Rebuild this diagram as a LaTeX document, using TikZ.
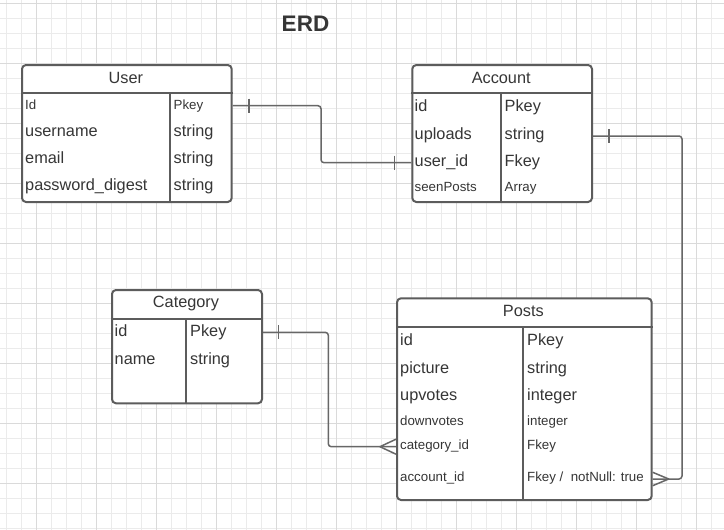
\documentclass[tikz,border=0pt]{standalone}
\usepackage{fontspec}
\setmainfont{Liberation Sans}
\usepackage{tikz}
\usetikzlibrary{positioning}
\definecolor{ink}{HTML}{363636}
\definecolor{frame}{HTML}{5C5C5C}
\definecolor{wire}{HTML}{676767}
\definecolor{minorgrid}{HTML}{EBEBEB}
\definecolor{majorgrid}{HTML}{DADADA}
\tikzset{edge/.style = {draw=wire, line width=1.5pt, rounded corners=3pt}}
\tikzset{rule/.style = {draw=frame, line width=2pt}}

\begin{document}
\begin{tikzpicture}[x=1pt, y=-1pt, line join=round,
    table/.style={rule, fill=white, rounded corners=4pt, inner sep=0pt, anchor=north west},
    field/.style={anchor=west, inner sep=0pt, text=ink, font=\fontsize{16.3}{18}\selectfont, text height=11.7pt, text depth=0pt},
    small field/.style={field, font=\fontsize{13.3}{15}\selectfont, text height=9.5pt},
    head/.style={field, anchor=center}]
    \useasboundingbox (0,0) rectangle (724,530);
    \fill[white] (0,0) rectangle (724,530);
    \foreach \gx in {6.7,21.7,...,722} \draw[minorgrid, line width=1pt] (\gx,0) -- (\gx,530);
    \foreach \gy in {3.3,18.3,...,529} \draw[minorgrid, line width=1pt] (0,\gy) -- (724,\gy);
    \foreach \gx in {36.7,96.7,...,722} \draw[majorgrid, line width=1pt] (\gx,0) -- (\gx,530);
    \foreach \gy in {3.3,63.3,...,529} \draw[majorgrid, line width=1pt] (0,\gy) -- (724,\gy);

    \node[font=\bfseries\fontsize{22.5}{26}\selectfont, text=ink] (title) at (305.5,24) {ERD};

    % User
    \node[table, minimum width=209.7pt, minimum height=137pt] (user) at (21,64) {};
    \draw[rule] (user.west |- 0,93.3) -- (user.east |- 0,93.3);
    \draw[rule] (170,93.3) -- (user.south -| 170,0);
    \node[head] (userhead) at (125.85,77.5) {User};
    \node[small field] (u1) at (25,104.5) {Id};
    \node[field] (u2) at (25,130.5) {username};
    \node[field] (u3) at (25,158) {email};
    \node[field] (u4) at (25,185) {password\_digest};
    \node[small field] (u1t) at (173.5,104.5) {Pkey};
    \node[field] (u2t) at (173.5,130.5) {string};
    \node[field] (u3t) at (173.5,158) {string};
    \node[field] (u4t) at (173.5,185) {string};

    % Account
    \node[table, minimum width=179.7pt, minimum height=137pt] (acct) at (411.3,64) {};
    \draw[rule] (acct.west |- 0,93.3) -- (acct.east |- 0,93.3);
    \draw[rule] (500.7,93.3) -- (acct.south -| 500.7,0);
    \node[head] (accthead) at (501.2,77.5) {Account};
    \node[field] (a1) at (414.5,106) {id};
    \node[field] (a2) at (414.5,133.3) {uploads};
    \node[field] (a3) at (414.5,161) {user\_id};
    \node[small field] (a4) at (414.5,187) {seenPosts};
    \node[field] (a1t) at (504.5,106) {Pkey};
    \node[field] (a2t) at (504.5,133.3) {string};
    \node[field] (a3t) at (504.5,161) {Fkey};
    \node[small field] (a4t) at (504.5,187) {Array};

    % Category
    \node[table, minimum width=150pt, minimum height=113.3pt] (cat) at (111,289) {};
    \draw[rule] (cat.west |- 0,319) -- (cat.east |- 0,319);
    \draw[rule] (186,319) -- (cat.south -| 186,0);
    \node[head] (cathead) at (186,302) {Category};
    \node[field] (c1) at (114.5,331) {id};
    \node[field] (c2) at (114.5,359) {name};
    \node[field] (c1t) at (190,331) {Pkey};
    \node[field] (c2t) at (190,359) {string};

    % Posts
    \node[table, minimum width=254.7pt, minimum height=201.7pt] (posts) at (396,297.3) {};
    \draw[rule] (posts.west |- 0,327.3) -- (posts.east |- 0,327.3);
    \draw[rule] (523.3,327.3) -- (posts.south -| 523.3,0);
    \node[head] (postshead) at (523.3,311) {Posts};
    \node[field] (p1) at (400,340) {id};
    \node[field] (p2) at (400,368) {picture};
    \node[field] (p3) at (400,395) {upvotes};
    \node[small field] (p4) at (400,421) {downvotes};
    \node[small field] (p5) at (400,445) {category\_id};
    \node[small field] (p6) at (400,477) {account\_id};
    \node[field] (p1t) at (527,340) {Pkey};
    \node[field] (p2t) at (527,368) {string};
    \node[field] (p3t) at (527,395) {integer};
    \node[small field] (p4t) at (527,421) {integer};
    \node[small field] (p5t) at (527,445) {Fkey};
    \node[small field] (p6t) at (527,477) {Fkey /~ notNull: true};

    % relations
    \path (u1t -| user.east) ++(0,1.2) coordinate (e1);
    \path (a3t -| acct.west) ++(0,1.7) coordinate (e2);
    \path (a2t -| acct.east) ++(0,2.7) coordinate (e3);
    \path (p6t -| posts.east) ++(0,2) coordinate (e4);
    \path (c1t -| cat.east) ++(0,1.3) coordinate (e5);
    \path (p5t -| posts.west) ++(0,1.7) coordinate (e6);
    \coordinate (m1) at (321,0);
    \coordinate (m2) at (682,0);
    \coordinate (m3) at (328.3,0);

    \draw[edge] (e1) -- (e1 -| m1) -- (e2 -| m1) -- (e2);
    \draw[edge] (e3) -- (e3 -| m2) -- (e4 -| m2) -- (e4);
    \draw[edge] (e5) -- (e5 -| m3) -- (e6 -| m3) -- (e6);

    \draw[edge] (e1) ++(16.5,-7) -- ++(0,14);
    \draw[edge] (e2) ++(-16.6,-7) -- ++(0,14);
    \draw[edge] (e3) ++(16,-7) -- ++(0,14);
    \draw[edge] (e5) ++(15.7,-7) -- ++(0,14);
    \draw[edge, sharp corners] (e4) ++(0,-6.7) -- ++(16,6.7) -- ++(-16,6.7);
    \draw[edge, sharp corners] (e6) ++(0,-7.5) -- ++(-16,7.5) -- ++(16,7.5);
\end{tikzpicture}
\end{document}
